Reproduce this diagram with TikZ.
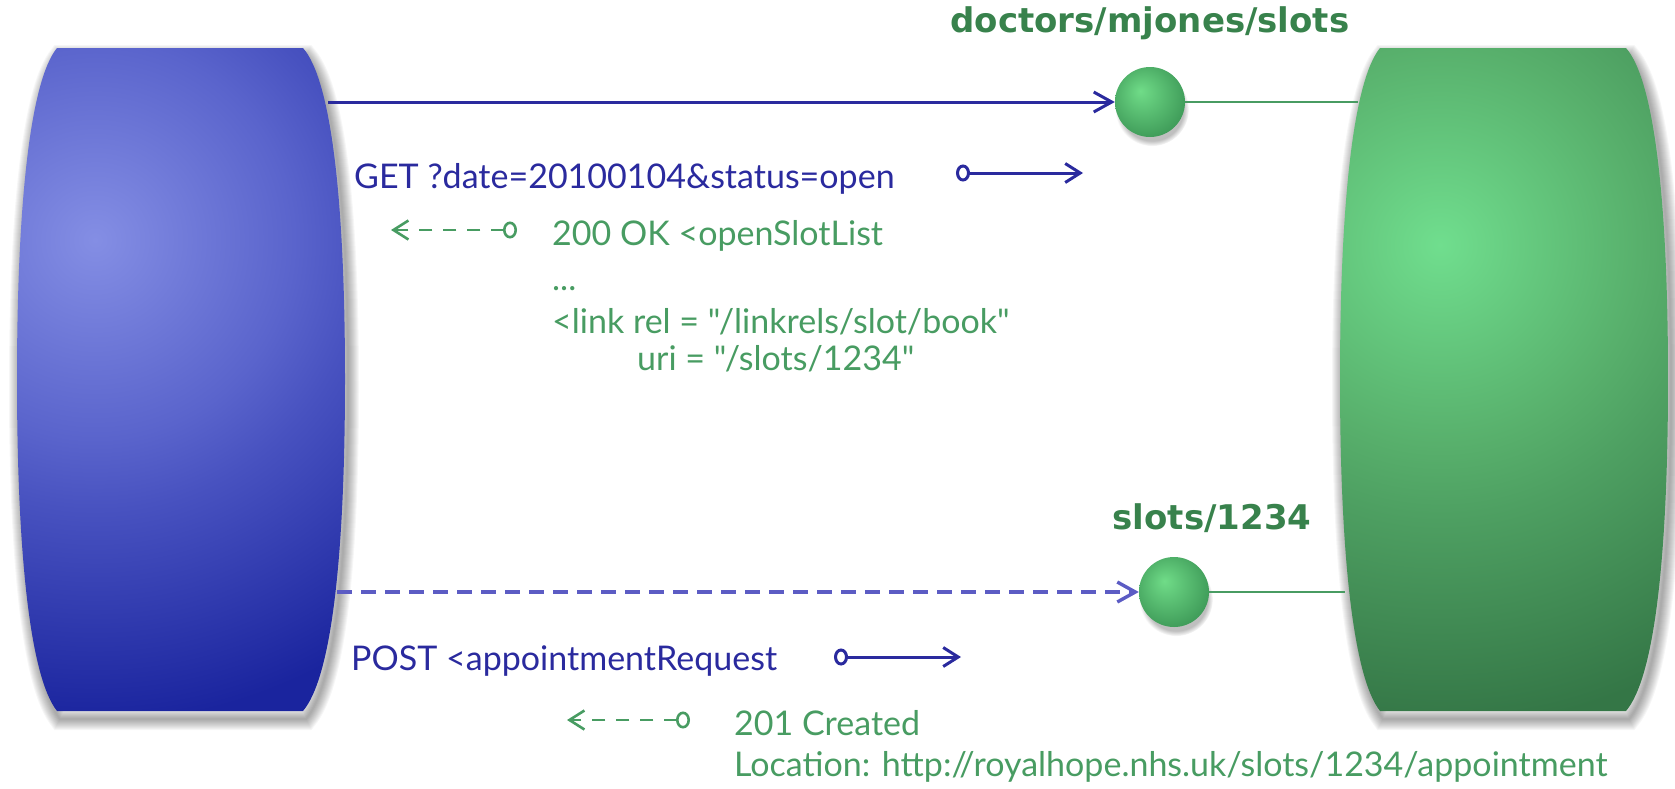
\documentclass[tikz,border=0pt]{standalone}
\usepackage{fontspec}
\setmainfont{Lato}[Ligatures=TeXOff]
\newfontfamily\labelfont{DejaVu Sans}
\usetikzlibrary{arrows.meta,positioning,shadows}

\definecolor{reqblue}{RGB}{42,42,158}
\definecolor{reqdash}{RGB}{92,92,196}
\definecolor{resgreen}{RGB}{72,156,98}
\definecolor{labgreen}{RGB}{56,130,76}
\definecolor{clientlight}{RGB}{132,142,228}
\definecolor{clientmid}{RGB}{90,100,204}
\definecolor{clientmidd}{RGB}{72,82,192}
\definecolor{clientdark}{RGB}{26,36,158}
\definecolor{serverlight}{RGB}{112,222,142}
\definecolor{servermid}{RGB}{88,176,108}
\definecolor{servermidd}{RGB}{78,160,98}
\definecolor{serverdark}{RGB}{52,118,70}
\definecolor{balllight}{RGB}{112,220,136}
\definecolor{balldark}{RGB}{62,154,88}

\pgfdeclareradialshading{clientshade}{\pgfpointorigin}{color(0bp)=(clientlight); color(7bp)=(clientmid); color(9.5bp)=(clientmidd); color(17bp)=(clientdark); color(50bp)=(clientdark)}
\pgfdeclareradialshading{servershade}{\pgfpointorigin}{color(0bp)=(serverlight); color(7bp)=(servermid); color(9.5bp)=(servermidd); color(17bp)=(serverdark); color(50bp)=(serverdark)}
\pgfdeclareradialshading{ballshade}{\pgfpoint{-7bp}{8bp}}{color(0bp)=(balllight); color(30bp)=(balldark); color(50bp)=(balldark)}

% outline of a barrel, 328 x 663
\newcommand{\barrel}{(40,0) -- (286,0) .. controls (314,32) and (328,150) .. (328,331) .. controls (328,512) and (314,630) .. (286,663) -- (40,663) .. controls (14,630) and (0,512) .. (0,331) .. controls (0,150) and (14,32) .. (40,0) -- cycle}

\begin{document}
\begin{tikzpicture}[x=1pt,y=-1pt,
    req/.style={reqblue,line width=3pt},
    res/.style={resgreen,line width=2.6pt},
    tipin/.style={-{Straight Barb[length=18pt,width=20pt]}},
    small/.style={{Circle[open,length=14pt,width=17pt,fill=white]}-{Straight Barb[length=15pt,width=19pt]}},
    ball/.style={circle,minimum size=70pt,inner sep=0pt,shade,shading=ballshade,
      circular drop shadow={shadow xshift=2pt,shadow yshift=-7pt,shadow scale=1.05,opacity=.5}},
    reslabel/.style={labgreen,font=\labelfont\bfseries\fontsize{34}{40}\selectfont,inner sep=0pt},
    reqtext/.style={reqblue,font=\fontsize{34}{40}\selectfont,anchor=base west,inner sep=0pt},
    restext/.style={resgreen,font=\fontsize{34}{40}\selectfont,anchor=base west,inner sep=0pt}]
  \useasboundingbox (0,0) rectangle (1675,788);

  % soft shadows, then the two barrels
  \foreach \sx in {17,1340}
    \foreach \w in {2,4,...,22}
      \draw[black,opacity=0.035,line width=\w pt,shift={(\sx+3,56)}] \barrel;
  \begin{scope}
    \clip[shift={(17,48)}] \barrel;
    \shade[shading=clientshade] (95,240) circle (710);
  \end{scope}
  \begin{scope}
    \clip[shift={(1340,48)}] \barrel;
    \shade[shading=servershade] (1440,245) circle (710);
  \end{scope}

  \coordinate (client top) at (328,102);
  \coordinate (client low) at (337,592);
  \coordinate (server top) at (1358,102);
  \coordinate (server low) at (1345,592);

  \node[ball] (slots) at (1150,102) {};
  \node[ball] (book) at (1174,592) {};
  \node[reslabel,above=27pt of slots] (slotsname) {doctors/mjones/slots};
  \node[reslabel,above=24pt of book,xshift=38pt] (bookname) {slots/1234};

  \draw[req,tipin] (client top) -- (slots);
  \draw[req,tipin,reqdash,line width=3.4pt,dash pattern=on 15pt off 9pt] (client low) -- (book);
  \draw[res] (slots) -- (server top);
  \draw[res] (book) -- (server low);

  \draw
    (354,188) node[reqtext] (get) {GET ?date=20100104\&status=open}
    (552,245) node[restext] (ok) {200 OK <openSlotList}
    (552,290) node[restext] (dots) {...}
    (552,333) node[restext] (link) {<link rel = "/linkrels/slot/book"}
    (637,370) node[restext] (uri) {uri = "/slots/1234"}
    (351,670) node[reqtext] (post) {POST <appointmentRequest}
    (734,735) node[restext] (created) {201 Created}
    (734,776) node[restext] (location) {Location: http://royalhope.nhs.uk/slots/1234/appointment};

  \coordinate (get from) at (956,173);
  \coordinate (get to) at (1083,173);
  \coordinate (ok from) at (517,230);
  \coordinate (ok to) at (391,230);
  \coordinate (post from) at (834,657);
  \coordinate (post to) at (961,657);
  \coordinate (created from) at (690,720);
  \coordinate (created to) at (567,720);
  \begin{scope}[small]
    \draw[req] (get from) -- (get to);
    \draw[res,dash pattern=on 13pt off 11pt] (ok from) -- (ok to);
    \draw[req] (post from) -- (post to);
    \draw[res,dash pattern=on 13pt off 11pt] (created from) -- (created to);
  \end{scope}
\end{tikzpicture}
\end{document}
